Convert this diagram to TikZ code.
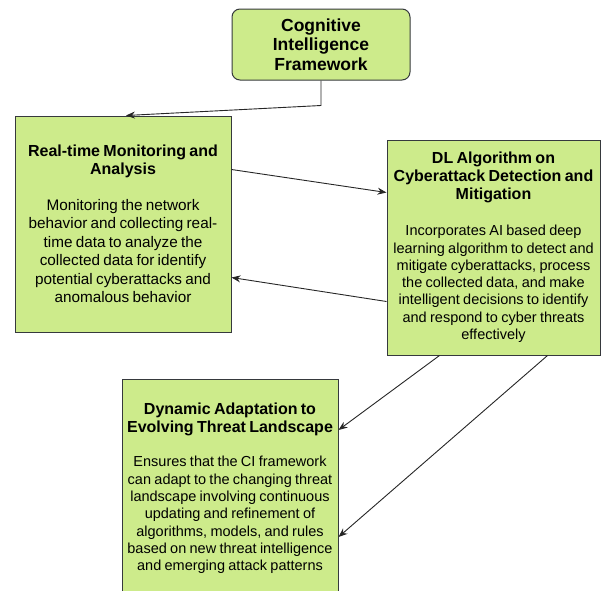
\documentclass[tikz,border=0pt]{standalone}
\usepackage{fontspec}
\setmainfont{Liberation Sans}
\usetikzlibrary{arrows.meta,calc}
\definecolor{boxfill}{HTML}{CDEB8B}
\definecolor{boxline}{HTML}{36393D}
\newcommand{\ttlfont}{\fontsize{16}{18}\selectfont\bfseries}
\newcommand{\bdyfont}{\fontsize{14.5}{17.3}\selectfont}
\begin{document}
\begin{tikzpicture}[x=1pt,y=-1pt,
  box/.style={draw=boxline,fill=boxfill,line width=1pt,align=center,inner sep=0pt},
  conn/.style={draw=black!85,line width=0.9pt,-{Stealth[length=9pt,width=7pt,inset=3pt]}}]
\useasboundingbox (0,0) rectangle (602,590);
\node[box,rounded corners=8pt,minimum width=178pt,minimum height=71pt,
  font=\fontsize{17.5}{19.5}\selectfont\bfseries] (T) at (321,44.5)
  {\rule{0pt}{3pt}Cognitive\\Intelligence\\Framework};
\node[box,minimum width=216pt,minimum height=216pt,text width=214pt] (L) at (123,224)
  {{\ttlfont Real-time Monitoring and\\Analysis\par}\vspace{17.5pt}
   {\fontsize{15.3}{18.5}\selectfont Monitoring the network\\behavior and collecting real-\\time data to analyze the\\collected data for identify\\potential cyberattacks and\\anomalous behavior\par}};
\node[box,minimum width=213pt,minimum height=215pt,text width=211pt] (R) at (493.5,247.5)
  {{\ttlfont DL Algorithm on\\Cyberattack Detection and\\Mitigation\par}\vspace{18.5pt}
   {\bdyfont Incorporates AI based deep\\learning algorithm to detect and\\mitigate cyberattacks, process\\the collected data, and make\\intelligent decisions to identify\\and respond to cyber threats\\effectively\par}};
\node[box,minimum width=216pt,minimum height=217pt,text width=215pt] (B) at (230,488)
  {{\ttlfont Dynamic Adaptation to\\Evolving Threat Landscape\par}\vspace{17.5pt}
   {\bdyfont Ensures that the CI framework\\can adapt to the changing threat\\landscape involving continuous\\updating and refinement of\\algorithms, models, and rules\\based on new threat intelligence\\and emerging attack patterns\par}};
\coordinate (bend) at ($(T.south)+(0,25)$);
\draw[conn] (T.south) -- (bend) -- ($(L.north)+(3,0)$);
\draw[conn] ($(L.north east)+(0,54)$) -- ($(R.north west)+(0,53)$);
\draw[conn] ($(R.north west)+(0,162)$) -- ($(L.north east)+(0,162)$);
\draw[conn] ($(R.south west)+(53,0)$) -- ($(B.north east)+(0,51)$);
\draw[conn] ($(R.south west)+(161,0)$) -- ($(B.north east)+(0,158)$);
\end{tikzpicture}
\end{document}
